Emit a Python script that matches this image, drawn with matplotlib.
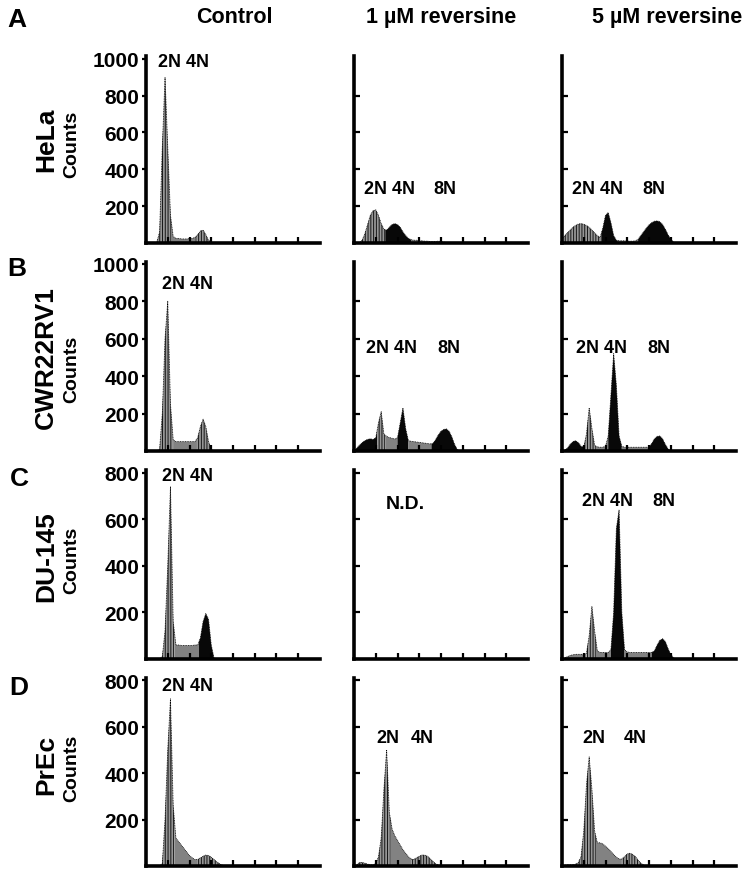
import numpy as np
import matplotlib
matplotlib.use('Agg')
import matplotlib.pyplot as plt

plt.rcParams['font.family'] = 'Liberation Sans'
plt.rcParams['hatch.linewidth'] = 0.7

# counts per 16-channel bin, first bin at channel 0
BIN = 16
hela_ctrl = [0, 0, 0, 0, 5, 60, 520, 900, 520, 150, 35, 25, 25, 22, 22, 22, 24, 25, 30, 45,
             65, 70, 45, 15, 3, 0]
hela_1um = [0, 0, 0, 15, 50, 100, 150, 175, 180, 150, 105, 75, 70, 85, 100, 105, 100, 85, 60, 40,
            25, 18, 15, 15, 12, 12, 10, 10, 8, 8, 8, 10, 8, 5, 2, 0]
hela_5um = [20, 40, 55, 70, 85, 95, 103, 105, 102, 95, 85, 70, 55, 40, 30, 80, 150, 165, 110, 40,
            15, 12, 12, 12, 10, 10, 10, 12, 20, 40, 60, 80, 98, 110, 118, 120, 115, 100, 75, 45,
            20, 5, 0]
cwr_ctrl = [0, 0, 0, 0, 0, 10, 200, 600, 800, 250, 60, 50, 50, 50, 50, 50, 50, 50, 50, 70,
            130, 170, 130, 50, 10, 0]
cwr_1um = [0, 15, 30, 45, 55, 62, 65, 62, 70, 150, 210, 90, 78, 72, 68, 64, 70, 150, 230, 120,
           55, 52, 50, 48, 46, 44, 42, 40, 38, 40, 60, 85, 105, 115, 118, 105, 75, 35, 8, 0]
cwr_5um = [0, 5, 15, 35, 50, 55, 45, 25, 20, 90, 230, 120, 30, 22, 20, 20, 25, 80, 300, 520,
           350, 80, 25, 20, 20, 20, 20, 20, 20, 20, 20, 20, 20, 40, 65, 78, 80, 65, 35, 12, 0]
du145_ctrl = [0, 0, 0, 0, 0, 0, 10, 120, 400, 740, 160, 60, 60, 58, 58, 58, 58, 58, 60, 60,
              90, 160, 195, 170, 60, 5, 0]
du145_5um = [0, 5, 10, 15, 18, 20, 20, 20, 20, 25, 100, 225, 120, 35, 28, 28, 28, 28, 40, 200,
             560, 640, 200, 40, 30, 28, 28, 28, 28, 28, 28, 28, 28, 28, 35, 60, 80, 87, 75, 45,
             20, 5, 0]
prec_ctrl = [0, 0, 0, 0, 0, 0, 10, 200, 500, 720, 260, 120, 105, 90, 75, 60, 45, 35, 28, 28,
             35, 42, 47, 45, 38, 28, 18, 10, 4, 0]
prec_1um = [0, 5, 15, 15, 12, 8, 5, 5, 10, 40, 120, 330, 500, 230, 160, 130, 110, 90, 70, 55,
            40, 30, 28, 35, 42, 47, 47, 42, 32, 20, 10, 4, 0]
prec_5um = [0, 3, 5, 5, 5, 8, 15, 40, 150, 350, 470, 330, 150, 100, 100, 95, 85, 75, 62, 50,
            38, 30, 30, 40, 52, 55, 50, 40, 25, 12, 4, 0]

# (start channel, phase) for the shading of each histogram
hela_ctrl_gates = [(0, 'g1'), (152, 's'), (290, 'g1')]
hela_1um_gates = [(0, 'g1'), (184, 'g2'), (336, 's')]
hela_5um_gates = [(0, 'g1'), (232, 'g2'), (328, 's'), (448, 'g2')]
cwr_ctrl_gates = [(0, 'g1'), (160, 's'), (296, 'g1')]
cwr_1um_gates = [(0, 'g2'), (136, 'g1'), (184, 's'), (256, 'g2'), (320, 's'), (456, 'g2')]
cwr_5um_gates = [(0, 'g2'), (128, 'g1'), (200, 's'), (272, 'g2'), (352, 's'), (512, 'g2')]
du145_ctrl_gates = [(0, 'g1'), (168, 's'), (312, 'g2')]
du145_5um_gates = [(0, 's'), (144, 'g1'), (200, 's'), (288, 'g2'), (368, 's'), (528, 'g2')]
prec_ctrl_gates = [(0, 'g1'), (168, 's'), (300, 'g1')]
prec_1um_gates = [(0, 'g1'), (216, 's'), (336, 'g1')]
prec_5um_gates = [(0, 'g1'), (200, 's'), (352, 'g1')]

conditions = ['Control', '1 µM reversine', '5 µM reversine']
cell_lines = ['HeLa', 'CWR22RV1', 'DU-145', 'PrEc']
letters = ['A', 'B', 'C', 'D']
yticks_big = [200, 400, 600, 800, 1000]
yticks_small = [200, 400, 600, 800]
xticks = [128, 256, 384, 512, 640, 768, 896]

panels = [
    [(hela_ctrl, hela_ctrl_gates), (hela_1um, hela_1um_gates), (hela_5um, hela_5um_gates)],
    [(cwr_ctrl, cwr_ctrl_gates), (cwr_1um, cwr_1um_gates), (cwr_5um, cwr_5um_gates)],
    [(du145_ctrl, du145_ctrl_gates), None, (du145_5um, du145_5um_gates)],
    [(prec_ctrl, prec_ctrl_gates), (prec_1um, prec_1um_gates), (prec_5um, prec_5um_gates)],
]

phase_style = {
    'g1': dict(facecolor='#969696', edgecolor='#151515', hatch='||||||'),
    's': dict(facecolor='#828282', edgecolor='none'),
    'g2': dict(facecolor='#080808', edgecolor='none'),
}

# layout in pixels
W, H = 752, 879
col_left = [146, 354, 562]
ax_w = 174
row_top = [57, 263, 471, 679]
row_bot = [244, 452, 660, 867]
row_ymax = [1015, 1010, 811, 810]
row_ticks = [yticks_big, yticks_big, yticks_small, yticks_small]

fig = plt.figure(figsize=(W / 100, H / 100), dpi=100)


def ftext(px, py, s, size, weight='bold', rot=0):
    if rot:
        fig.text(px / W, 1 - py / H, s, ha='center', va='center', rotation=rot,
                 fontsize=size, fontweight=weight)
    else:
        base = py + 0.716 * size * 100 / 72 / 2
        fig.text(px / W, 1 - base / H, s, ha='center', va='baseline',
                 fontsize=size, fontweight=weight)


def draw_hist(ax, counts, gates):
    y = np.asarray(counts, float)
    x = np.arange(len(y)) * BIN
    ends = [g[0] for g in gates[1:]] + [x[-1]]
    for (a, phase), b in zip(gates, ends):
        xs = np.concatenate([[a], x[(x > a) & (x < b)], [b]])
        ys = np.interp(xs, x, y)
        ax.fill_between(xs, 0, ys, linewidth=0, **phase_style[phase])
    ax.plot(x, y, color='black', lw=0.6, ls=(0, (1, 1)))


for r in range(4):
    for c in range(3):
        ax = fig.add_axes([col_left[c] / W, 1 - row_bot[r] / H, ax_w / W,
                           (row_bot[r] - row_top[r]) / H])
        if panels[r][c] is not None:
            draw_hist(ax, *panels[r][c])
        ax.set_xlim(0, 1024)
        ax.set_ylim(0, row_ymax[r])
        ax.patch.set_alpha(0)
        for s in ['top', 'right']:
            ax.spines[s].set_visible(False)
        for s in ['left', 'bottom']:
            ax.spines[s].set_linewidth(2.6)
            ax.spines[s].set_capstyle('projecting')
        ax.set_xticks(xticks)
        ax.set_xticklabels([])
        ax.tick_params(axis='x', direction='in', length=4, width=1.6)
        if c == 0:
            ax.set_yticks(row_ticks[r])
            ax.tick_params(axis='y', direction='out', length=3, width=1.6, pad=2, labelsize=15)
            for lab in ax.get_yticklabels():
                lab.set_fontweight('bold')
        else:
            ax.set_yticks(yticks_small)
            ax.set_yticklabels([])
            ax.tick_params(axis='y', direction='in', length=4.5, width=1.6)

# column titles
for cx, t in zip([234, 441, 667], conditions):
    ftext(cx, 15, t, 15.5)

# panel letters and row labels
for (lx, ly), t in zip([(17, 18), (17, 267), (19, 477), (19, 686)], letters):
    ftext(lx, ly, t, 19)
for ny, cy, name in zip([140, 358, 557, 765], [144, 369, 560, 768], cell_lines):
    ftext(46, ny, name, 19, rot=90)
    ftext(72, cy, 'Counts', 14, rot=90)

# peak labels
peak_labels = [
    ('2N 4N', 183, 61), ('2N 4N', 389, 188), ('8N', 445, 188), ('2N 4N', 598, 188), ('8N', 654, 188),
    ('2N 4N', 188, 283), ('2N 4N', 392, 347), ('8N', 449, 347), ('2N 4N', 602, 347), ('8N', 659, 347),
    ('2N 4N', 188, 475), ('2N 4N', 608, 500), ('8N', 664, 500),
    ('2N 4N', 188, 685), ('2N', 388, 737), ('4N', 422, 737), ('2N', 594, 737), ('4N', 635, 737),
]
for t, px, py in peak_labels:
    ftext(px, py, t, 13)
ftext(405, 502, 'N.D.', 14)

fig.savefig('out.png', dpi=100)
